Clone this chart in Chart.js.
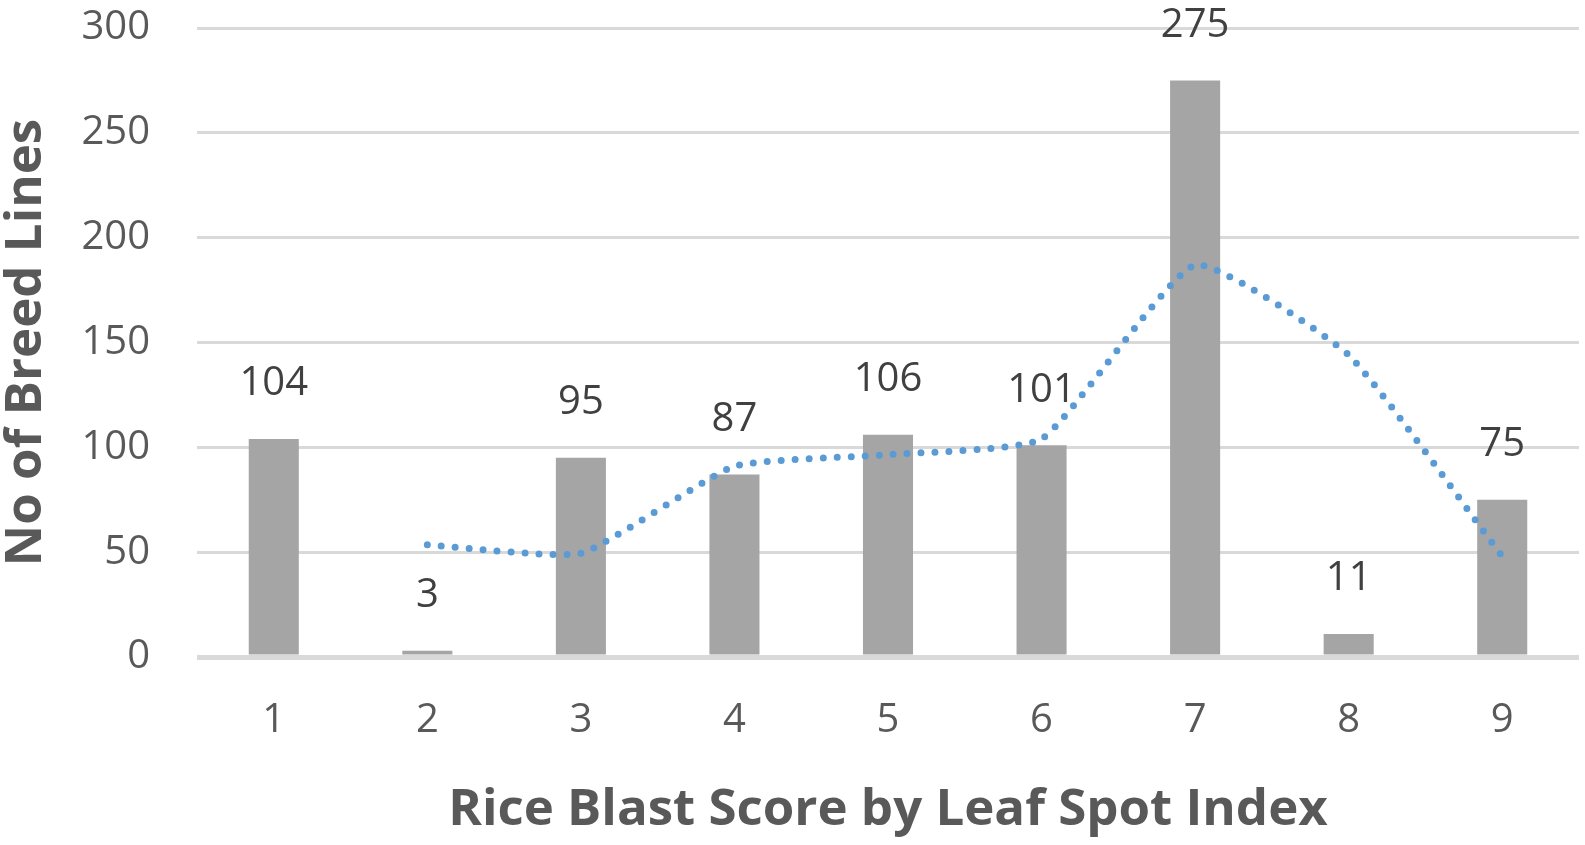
<!DOCTYPE html>
<html>
<head>
<meta charset="utf-8">
<script src="https://cdn.jsdelivr.net/npm/chart.js@4/dist/chart.umd.min.js"></script>
<style>
  html, body { margin: 0; padding: 0; background: #ffffff; }
  #wrap { width: 1585px; height: 845px; position: relative; }
</style>
</head>
<body>
<div id="wrap"><canvas id="c" width="1585" height="845"></canvas></div>
<script>
// ---- data ----
const categories = ['1', '2', '3', '4', '5', '6', '7', '8', '9'];
const breedLines = [104, 3, 95, 87, 106, 101, 275, 11, 75];
const trendValues = [null, 53.5, 49.5, 91, 96.5, 104, 187, 144, 48];
const yTicks = [0, 50, 100, 150, 200, 250, 300];
const xTitle = 'Rice Blast Score by Leaf Spot Index';
const yTitle = 'No of Breed Lines';

const FONT = "'Open Sans', 'Noto Sans', sans-serif";

const barLabels = {
  id: 'barLabels',
  afterDatasetsDraw(chart) {
    const meta = chart.getDatasetMeta(1);
    const ctx = chart.ctx;
    ctx.save();
    ctx.font = '40px ' + FONT;
    ctx.fillStyle = '#404040';
    ctx.textAlign = 'center';
    ctx.textBaseline = 'middle';
    meta.data.forEach((bar, i) => {
      ctx.fillText(String(breedLines[i]), bar.x, bar.y - 55);
    });
    ctx.restore();
  }
};

new Chart(document.getElementById('c'), {
  data: {
    labels: categories,
    datasets: [
      {
        type: 'line',
        data: trendValues,
        borderColor: '#5B9BD5',
        borderWidth: 7,
        borderDash: [0, 14],
        borderCapStyle: 'round',
        pointRadius: 0,
        tension: 0.15,
        fill: false,
        order: 0
      },
      {
        type: 'bar',
        data: breedLines,
        backgroundColor: '#A5A5A5',
        barPercentage: 0.326,
        categoryPercentage: 1,
        order: 1
      }
    ]
  },
  options: {
    responsive: false,
    animation: false,
    devicePixelRatio: 1,
    layout: { padding: { top: 28, right: 6, left: 0, bottom: 0 } },
    plugins: { legend: { display: false }, tooltip: { enabled: false } },
    scales: {
      x: {
        grid: { display: false, drawTicks: false },
        border: { display: false },
        ticks: { color: '#595959', font: { family: FONT, size: 40 }, padding: 40 },
        title: {
          display: true, text: xTitle, color: '#595959',
          font: { family: FONT, size: 51, weight: 'bold', lineHeight: 1 },
          padding: { top: 0, bottom: 9 }
        },
        afterFit(scale) { scale.height = 188; scale.paddingLeft = 0; scale.paddingRight = 0; }
      },
      y: {
        min: 0, max: 300,
        afterBuildTicks(scale) { scale.ticks = yTicks.map(v => ({ value: v })); },
        grid: {
          color: '#D9D9D9',
          lineWidth: (c) => (c.tick && c.tick.value === 0 ? 5 : 3),
          drawTicks: false
        },
        border: { display: false },
        ticks: { color: '#595959', font: { family: FONT, size: 40 }, padding: 47 },
        title: {
          display: true, text: yTitle, color: '#595959',
          font: { family: FONT, size: 51, weight: 'bold', lineHeight: 1 },
          padding: { top: 1, bottom: 0 }
        },
        afterFit(scale) { scale.width = 197; scale.paddingTop = 0; scale.paddingBottom = 0; }
      }
    }
  },
  plugins: [barLabels]
});
</script>
</body>
</html>
